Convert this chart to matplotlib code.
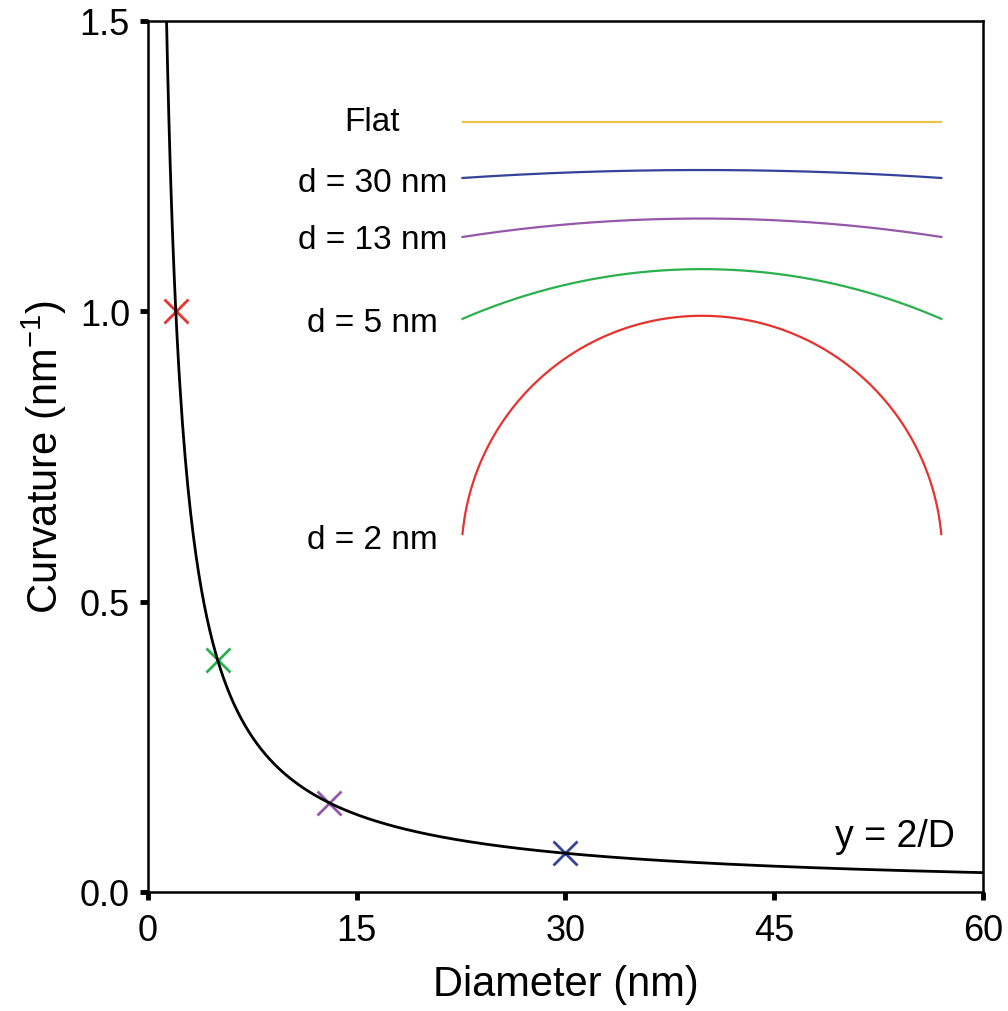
import numpy as np
import matplotlib
matplotlib.use('Agg')
import matplotlib.pyplot as plt

plt.rcParams['font.family'] = ['Liberation Sans', 'DejaVu Sans']

# data
diam_marks = [2, 5, 13, 30]
mark_colors = ['#e8322e', '#2bb04e', '#9557a8', '#34429a']

arc_labels = ['Flat', 'd = 30 nm', 'd = 13 nm', 'd = 5 nm', 'd = 2 nm']
arc_diams = [None, 30, 13, 5, 2]
arc_colors = ['#e9c449', '#34429a', '#9557a8', '#2bb04e', '#e8322e']
arc_base = [1.326, 1.2296, 1.128, 0.987, 0.6165]   # y of arc ends
label_x = [18.1, 21.5, 21.5, 20.8, 20.8]
label_dy = [0.0, -0.007, -0.004, -0.006, -0.01]
arc_x0, arc_x1 = 22.6, 57.0
px_per_nm = 120.2  # drawing scale of the cross sections

fig = plt.figure(figsize=(10.08, 10.12), dpi=100)
ax = fig.add_axes([0.1468, 0.1176, 0.8284, 0.8607])
ax.set_xlim(0, 60)
ax.set_ylim(0, 1.5)

D = np.linspace(1.3, 60, 600)
ax.plot(D, 2 / D, color='black', lw=2, zorder=4)
for d, c in zip(diam_marks, mark_colors):
    ax.plot(d, 2 / d, marker='x', ms=17, mew=2, color=c, zorder=3)

# pixel scale of the axes
bbox = ax.get_window_extent()
sx = bbox.width / 60
sy = bbox.height / 1.5
xc = (arc_x0 + arc_x1) / 2
w = (arc_x1 - arc_x0) / 2 * sx

for lab, d, c, yb, lx, dy in zip(arc_labels, arc_diams, arc_colors, arc_base, label_x, label_dy):
    ax.text(lx, yb + dy, lab, fontsize=24, ha='right', va='center')
    if d is None:
        ax.plot([arc_x0, arc_x1], [yb, yb], color=c, lw=1.6)
        continue
    R = px_per_nm * d
    phi = np.arcsin(min(w / R, 1))
    t = np.linspace(-phi, phi, 300)
    xs = xc + R * np.sin(t) / sx
    ys = yb + R * (np.cos(t) - np.cos(phi)) / sy
    ax.plot(xs, ys, color=c, lw=1.6)

ax.text(58.0, 0.079, 'y = 2/D', fontsize=27, ha='right', va='baseline')

ax.set_xticks([0, 15, 30, 45, 60])
ax.set_yticks([0, 0.5, 1.0, 1.5])
ax.set_yticklabels(['0.0', '0.5', '1.0', '1.5'])
ax.tick_params(direction='out', length=6, width=3.5, labelsize=26)
ax.tick_params(axis='x', pad=9)
ax.tick_params(axis='y', pad=7)
for s in ax.spines.values():
    s.set_linewidth(1.8)
ax.set_xlabel('Diameter (nm)', fontsize=30, labelpad=12)
ax.set_ylabel('Curvature (nm$^{\\mathregular{-1}}$)', fontsize=30, labelpad=8)

fig.savefig('out.png', dpi=100)
